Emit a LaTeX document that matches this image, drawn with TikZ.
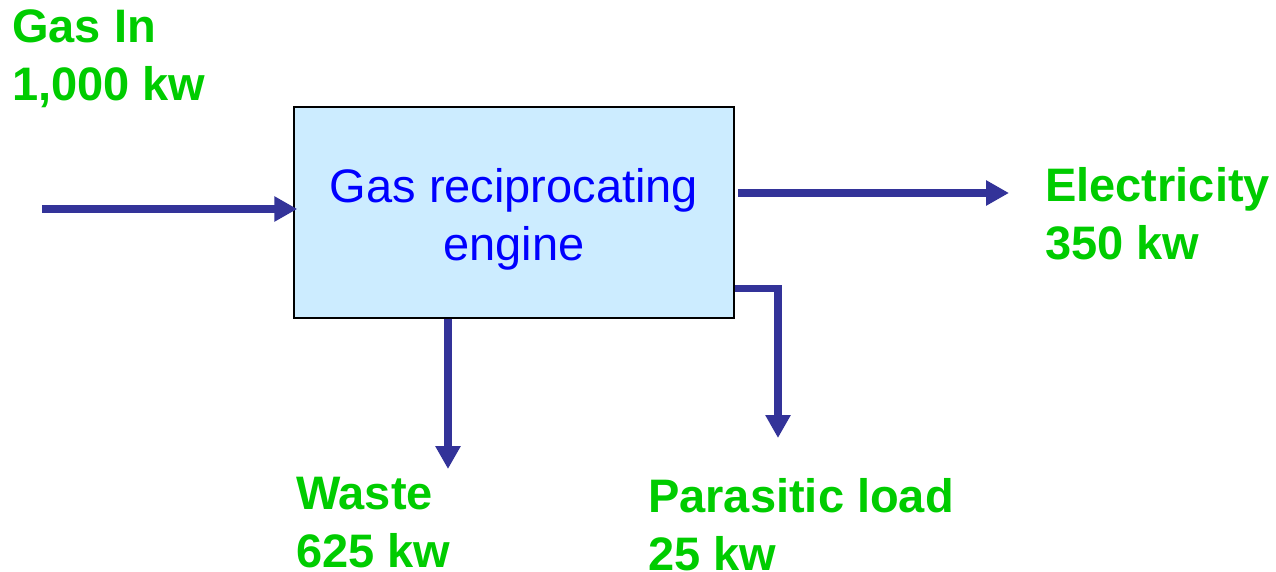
\documentclass[tikz,border=0pt]{standalone}
\usepackage{fontspec}
\setmainfont{Liberation Sans}
\usetikzlibrary{arrows.meta,calc}
\definecolor{flowblue}{HTML}{333399}
\definecolor{lblgreen}{HTML}{00CC00}
\definecolor{boxfill}{HTML}{CCECFF}
\definecolor{boxtext}{HTML}{0000FF}
\tikzset{
  flow/.style={draw=flowblue, line width=7.5pt, -{Triangle[length=23pt,width=24pt]}, fill=none},
  lbl/.style={text=lblgreen, font=\fontsize{47}{58}\selectfont\bfseries, align=left, inner sep=0pt, anchor=base west},
  enginebox/.style={draw=black, line width=1.5pt, fill=boxfill, minimum width=440pt, minimum height=211pt,
    text=boxtext, font=\fontsize{47}{58}\selectfont, align=center, inner sep=0pt}
}
\begin{document}
\begin{tikzpicture}[x=1pt,y=-1pt]
\useasboundingbox (0,0) rectangle (1276,571);
\node[enginebox] (box) at (514,212.5) {\rule{0pt}{47pt}Gas reciprocating\\engine};
\node[lbl] (gasin) at (12,100) {Gas In\\1,000 kw};
\node[lbl] (elec) at (1045,259) {Electricity\\350 kw};
\node[lbl] (waste) at (296,567) {Waste\\625 kw};
\node[lbl] (para) at (648,570) {Parasitic load\\25 kw};
\coordinate (instart) at (42,209);
\coordinate (elecend) at (1009,193);
\coordinate (wasteend) at (448,469);
\coordinate (paraend) at (778,438);
\draw[flow] (instart) -- ($(instart -| box.west)+(4,0)$);
\draw[flow] ([xshift=3pt,yshift=19.5pt]box.east) -- (elecend);
\draw[flow] (wasteend |- box.south) -- (wasteend);
\draw[flow] ([yshift=-76pt]box.east) -| (paraend);
\end{tikzpicture}
\end{document}
